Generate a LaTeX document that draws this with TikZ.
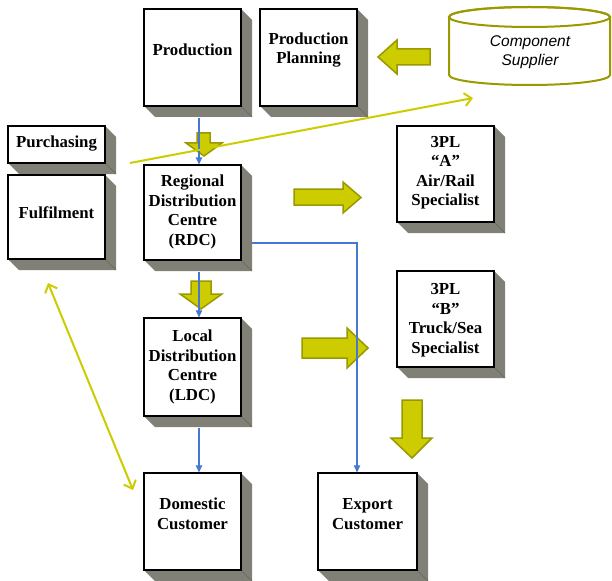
\documentclass[tikz,border=0pt]{standalone}
\usepackage{fontspec}
\setmainfont{Liberation Serif}
\newfontfamily\arialf{Liberation Sans}
\usetikzlibrary{arrows.meta,calc}
\definecolor{shadgray}{RGB}{128,128,118}
\definecolor{shadline}{RGB}{100,100,92}
\definecolor{olivefill}{RGB}{204,204,0}
\definecolor{olivedraw}{RGB}{153,153,0}
\definecolor{bluel}{RGB}{70,120,210}
\newcommand\boxfont{\fontsize{16.8}{19.5}\selectfont\bfseries}
\tikzset{
  boxnode/.style={draw=black, line width=1.3pt, fill=white, inner sep=0pt},
  btxt/.style={font=\boxfont, align=center, inner sep=0pt},
  shad/.style={fill=shadgray},
  shline/.style={draw=shadline, line width=0.6pt},
  blockarrow/.style={fill=olivefill, draw=olivedraw, line width=1.5pt, line join=miter},
  bluearrow/.style={draw=bluel, line width=1.1pt, -{Triangle[length=7pt,width=6.5pt]}},
  yline/.style={draw=olivefill, line width=2pt},
}
% #1 name, #2 cx, #3 cy, #4 w, #5 h, #6 text shift (pt, up), #7 text
\newcommand\shbox[7]{%
  \fill[shad] ({#2-#4/2},{#3+#5/2}) -- ++(11,11) -- ++(#4,0) -- ++(0,-#5) -- ++(-11,-11) -- cycle;
  \draw[shline] ({#2+#4/2},{#3+#5/2}) -- ++(11,11);
  \node[boxnode, minimum width=#4pt, minimum height=#5pt] (#1) at (#2,#3) {};
  \node[btxt] (#1-t) at ([yshift=#6pt]#1.center) {#7};
}
\begin{document}
\begin{tikzpicture}[x=1pt,y=-1pt]
\useasboundingbox (0,0) rectangle (612,580);
\fill[white] (0,0) rectangle (612,580);

% block arrows
\filldraw[blockarrow] (430,49) -- (397,49) -- (397,40) -- (378,57) -- (397,74) -- (397,65) -- (430,65) -- cycle;
\filldraw[blockarrow] (294,189) -- (343,189) -- (343,182) -- (361,197.5) -- (343,213) -- (343,205) -- (294,205) -- cycle;
\filldraw[blockarrow] (302,338) -- (347,338) -- (347,328) -- (368,348) -- (347,368) -- (347,358) -- (302,358) -- cycle;
\filldraw[blockarrow] (197,133) -- (210,133) -- (210,143) -- (222,143) -- (204,156) -- (186,143) -- (197,143) -- cycle;
\filldraw[blockarrow] (191,281) -- (211,281) -- (211,294) -- (222,294) -- (201,309) -- (180,294) -- (191,294) -- cycle;
\filldraw[blockarrow] (402,400) -- (422,400) -- (422,438) -- (432,438) -- (412,458) -- (391,438) -- (402,438) -- cycle;

% component supplier cylinder
\filldraw[draw=olivedraw, fill=white, line width=2pt]
  (449,17) -- (449,75) arc[start angle=180, end angle=360, x radius=80.5pt, y radius=10pt]
  -- (610,17) arc[start angle=0, end angle=180, x radius=80.5pt, y radius=10pt] -- cycle;
\draw[draw=olivedraw, line width=2pt] (529.5,17) ellipse [x radius=80.5pt, y radius=10pt];
\node[font=\arialf\itshape\fontsize{15.5}{19}\selectfont, align=center, inner sep=0pt] (supp) at (530,52) {Component\\Supplier};

% boxes
\shbox{prod}{192.5}{57.5}{97}{97}{7.5}{Production}
\shbox{plan}{308.5}{57.5}{97}{97}{7.5}{Production\\Planning}
\shbox{purch}{56.5}{144.5}{97}{37}{1}{Purchasing}
\shbox{fulf}{56.5}{217}{97}{84}{4}{Fulfilment}
\shbox{rdc}{192.5}{212.5}{97}{95}{0.5}{Regional\\Distribution\\Centre\\(RDC)}
\shbox{ldc}{192.5}{367}{97}{98}{0}{Local\\Distribution\\Centre\\(LDC)}
\shbox{dom}{192.5}{521.5}{97}{97}{7.5}{Domestic\\Customer}
\shbox{exp}{367.5}{521.5}{99}{97}{7.5}{Export\\Customer}
\shbox{tplA}{445.5}{174}{97}{96}{1.5}{3PL\\“A”\\Air/Rail\\Specialist}
\shbox{tplB}{445.5}{319}{97}{96}{-1}{3PL\\“B”\\Truck/Sea\\Specialist}

% blue connectors
\draw[bluearrow] ([xshift=6.5pt,yshift=-11pt]prod.south) -- ([xshift=6.5pt]rdc.north);
\draw[bluearrow] ([xshift=6.5pt,yshift=-11pt]rdc.south) -- ([xshift=6.5pt]ldc.north);
\draw[bluearrow] ([xshift=6.5pt,yshift=-11pt]ldc.south) -- ([xshift=6.5pt]dom.north);
\draw[bluearrow] ([xshift=10pt,yshift=-30.5pt]rdc.east) -| ([xshift=-10.5pt]exp.north);

% yellow connectors
\coordinate (ys) at (130,163);
\coordinate (ye) at (473,98);
\coordinate (da) at (48,283);
\coordinate (db) at (133,490);
\draw[yline, -{Straight Barb[length=7pt,width=13pt]}] (ys) -- (ye);
\draw[yline, {Straight Barb[length=7pt,width=13pt]}-{Straight Barb[length=7pt,width=13pt]}] (da) -- (db);
\end{tikzpicture}
\end{document}
